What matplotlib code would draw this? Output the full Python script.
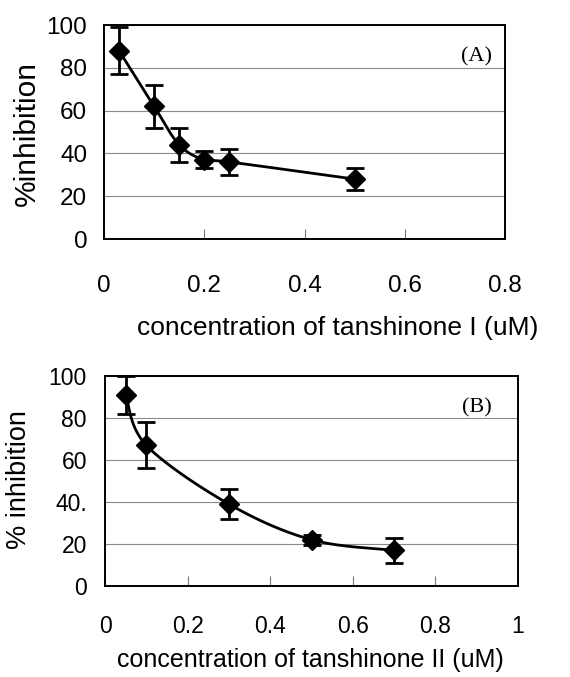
import numpy as np
import matplotlib
matplotlib.use("Agg")
import matplotlib.pyplot as plt

plt.rcParams['font.family'] = ['Liberation Sans', 'DejaVu Sans']

# ---- data ----
conc_a = [0.03, 0.10, 0.15, 0.20, 0.25, 0.50]
inhib_a = [88, 62, 44, 37, 36, 28]
err_a = [11, 10, 8, 4, 6, 5]

conc_b = [0.05, 0.10, 0.30, 0.50, 0.70]
inhib_b = [91, 67, 39, 22, 17]
err_b = [9, 11, 7, 2.5, 6]

xticks_a = [0, 0.2, 0.4, 0.6, 0.8]
xticklabels_a = ["0", "0.2", "0.4", "0.6", "0.8"]
xticks_b = [0, 0.2, 0.4, 0.6, 0.8, 1.0]
xticklabels_b = ["0", "0.2", "0.4", "0.6", "0.8", "1"]
yticks = [0, 20, 40, 60, 80, 100]
yticklabels_a = ["0", "20", "40", "60", "80", "100"]
yticklabels_b = ["0", "20", "40.", "60", "80", "100"]


def smooth(x, y, n=40):
    """Catmull-Rom (Excel-style smoothed line) through the data points."""
    x = np.asarray(x, float)
    y = np.asarray(y, float)
    px = np.concatenate([[x[0]], x, [x[-1]]])
    py = np.concatenate([[y[0]], y, [y[-1]]])
    xs, ys = [], []
    t = np.linspace(0, 1, n)
    for i in range(1, len(px) - 2):
        p0x, p1x, p2x, p3x = px[i - 1], px[i], px[i + 1], px[i + 2]
        p0y, p1y, p2y, p3y = py[i - 1], py[i], py[i + 1], py[i + 2]
        c1x = p1x + (p2x - p0x) / 6
        c1y = p1y + (p2y - p0y) / 6
        c2x = p2x - (p3x - p1x) / 6
        c2y = p2y - (p3y - p1y) / 6
        bx = (1 - t) ** 3 * p1x + 3 * (1 - t) ** 2 * t * c1x + 3 * (1 - t) * t ** 2 * c2x + t ** 3 * p2x
        by = (1 - t) ** 3 * p1y + 3 * (1 - t) ** 2 * t * c1y + 3 * (1 - t) * t ** 2 * c2y + t ** 3 * p2y
        xs.extend(bx)
        ys.extend(by)
    return np.array(xs), np.array(ys)


fig = plt.figure(figsize=(5.70, 6.77), dpi=100)

W, H = 570, 677


def make_axes(l, r, t, b):
    return fig.add_axes([l / W, 1 - b / H, (r - l) / W, (b - t) / H])


def style(ax, xticks, xtl, ytl, xmax, tick_size, xpad, ypad):
    ax.set_xlim(0, xmax)
    ax.set_ylim(0, 100)
    ax.set_xticks(xticks)
    ax.set_xticklabels(xtl, fontsize=tick_size)
    ax.set_yticks(yticks)
    ax.set_yticklabels(ytl, fontsize=tick_size)
    ax.tick_params(axis='x', direction='in', length=7, width=0.8, color='#777777', pad=xpad)
    ax.tick_params(axis='y', length=0, pad=ypad)
    for s in ax.spines.values():
        s.set_color('black')
        s.set_linewidth(1.4)
    ax.yaxis.grid(True, color='#8a8a8a', linewidth=0.8)
    ax.set_axisbelow(True)


# Panel A
axA = make_axes(104, 505, 25, 239)
style(axA, xticks_a, xticklabels_a, yticklabels_a, 0.8, 17.5, 26, 12)
sx, sy = smooth(conc_a, inhib_a)
axA.plot(sx, sy, color='black', lw=2.0, zorder=3, clip_on=False)
axA.errorbar(conc_a, inhib_a, yerr=err_a, fmt='D', color='black', ms=10.5,
             ecolor='black', elinewidth=2.0, capsize=6.5, capthick=2.0, zorder=4, clip_on=False)
axA.text(0.93, 0.85, "(A)", transform=axA.transAxes, ha='center', va='center',
         fontsize=16, family=['Liberation Serif', 'DejaVu Serif'])
fig.text(27 / W, 1 - 134 / H, "%inhibition", rotation=90, ha='center', va='center', fontsize=21.5)
fig.text(338 / W, 1 - 328 / H, "concentration of tanshinone I (uM)", ha='center', va='center', fontsize=19)

# Panel B
axB = make_axes(105, 518, 376, 586)
style(axB, xticks_b, xticklabels_b, yticklabels_b, 1.0, 16.5, 21, 13)
sx, sy = smooth(conc_b, inhib_b)
axB.plot(sx, sy, color='black', lw=2.0, zorder=3, clip_on=False)
axB.errorbar(conc_b, inhib_b, yerr=err_b, fmt='D', color='black', ms=10.5,
             ecolor='black', elinewidth=2.0, capsize=6.5, capthick=2.0, zorder=4, clip_on=False)
axB.text(0.9, 0.85, "(B)", transform=axB.transAxes, ha='center', va='center',
         fontsize=16, family=['Liberation Serif', 'DejaVu Serif'])
fig.text(19 / W, 1 - 480 / H, "% inhibition", rotation=90, ha='center', va='center', fontsize=19.5)
fig.text(310 / W, 1 - 660 / H, "concentration of tanshinone II (uM)", ha='center', va='center', fontsize=18)

fig.savefig("out.png", dpi=100)
